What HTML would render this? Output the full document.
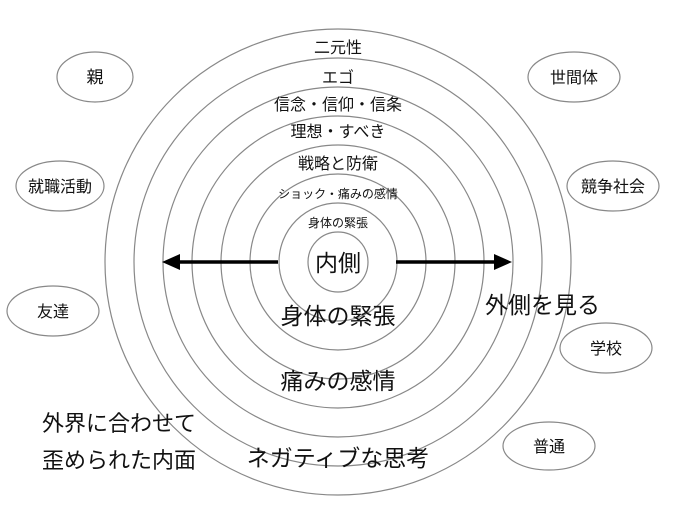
<!DOCTYPE html>
<html><head><meta charset="utf-8"><style>
body{margin:0;background:#fff}
svg text{font-family:"Liberation Sans","Noto Sans CJK JP",sans-serif;fill:#111}
</style></head><body>
<svg width="692" height="527" viewBox="0 0 692 527" xmlns="http://www.w3.org/2000/svg">
<g fill="none" stroke="#888" stroke-width="1.2">
<circle cx="338" cy="262" r="30"/>
<circle cx="338" cy="262" r="59"/>
<circle cx="338" cy="262" r="88"/>
<circle cx="338" cy="262" r="117"/>
<circle cx="338" cy="262" r="146"/>
<circle cx="338" cy="262" r="175"/>
<circle cx="338" cy="262" r="204"/>
<circle cx="338" cy="262" r="233"/>
<ellipse cx="95" cy="77" rx="38" ry="25"/>
<ellipse cx="60" cy="186" rx="44" ry="25"/>
<ellipse cx="53" cy="311" rx="46" ry="25"/>
<ellipse cx="574" cy="77" rx="46" ry="25"/>
<ellipse cx="613" cy="186" rx="46" ry="25"/>
<ellipse cx="606" cy="348" rx="46" ry="25"/>
<ellipse cx="549" cy="446" rx="46" ry="24"/>
</g>
<g stroke="#000" stroke-width="3.5">
<line x1="176" y1="262" x2="278" y2="262"/>
<line x1="396" y1="262" x2="498" y2="262"/>
</g>
<polygon points="162,262 180,254 180,270" fill="#000"/>
<polygon points="512,262 494,254 494,270" fill="#000"/>
<g text-anchor="middle">
<text x="338" y="53" font-size="16">二元性</text>
<text x="338" y="83" font-size="16">エゴ</text>
<text x="338" y="110" font-size="16">信念・信仰・信条</text>
<text x="338" y="137" font-size="16">理想・すべき</text>
<text x="338" y="169" font-size="16">戦略と防衛</text>
<text x="338" y="198" font-size="12">ショック・痛みの感情</text>
<text x="338" y="227" font-size="12">身体の緊張</text>
<text x="338" y="271" font-size="23">内側</text>
<text x="338" y="324" font-size="23">身体の緊張</text>
<text x="338" y="389" font-size="23">痛みの感情</text>
<text x="338" y="466" font-size="23">ネガティブな思考</text>
<text x="95" y="83" font-size="17">親</text>
<text x="60" y="192" font-size="16">就職活動</text>
<text x="53" y="317" font-size="16">友達</text>
<text x="574" y="83" font-size="16">世間体</text>
<text x="613" y="192" font-size="16">競争社会</text>
<text x="606" y="354" font-size="16">学校</text>
<text x="549" y="452" font-size="16">普通</text>
</g>
<text x="485" y="313" font-size="23">外側を見る</text>
<text x="42" y="431" font-size="22">外界に合わせて</text>
<text x="42" y="468" font-size="22">歪められた内面</text>
</svg>
</body></html>
